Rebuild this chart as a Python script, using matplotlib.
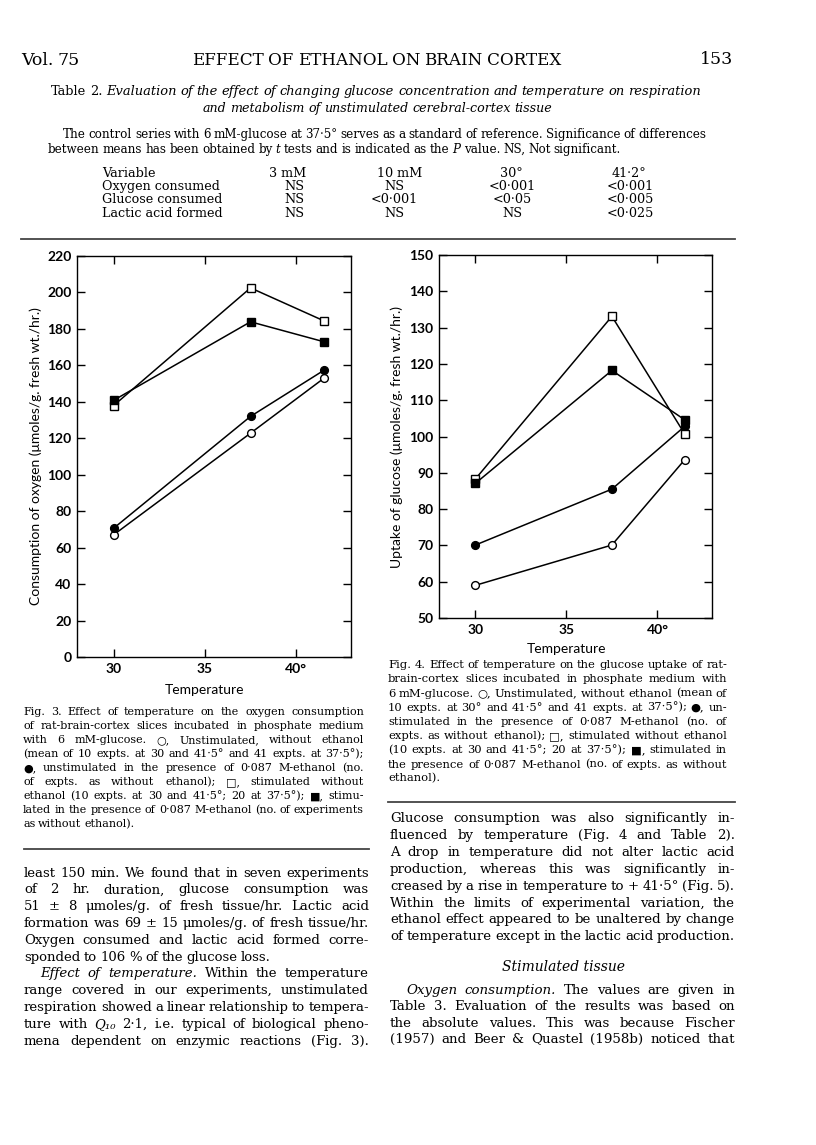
import matplotlib
matplotlib.use("Agg")
import matplotlib.pyplot as plt
from matplotlib.lines import Line2D

W, H, DPI = 816, 1145, 100
SERIF = ["DejaVu Serif", "DejaVu Sans"]
SANS = ["Lato", "DejaVu Sans"]

# ---- data ----
temps = [30, 37.5, 41.5]
o2_open_circle = [67, 122.8, 152.8]
o2_filled_circle = [70.6, 132, 157.2]
o2_open_square = [137.9, 202.5, 184.5]
o2_filled_square = [140.8, 183.9, 173]

glc_open_circle = [59, 70.1, 93.6]
glc_filled_circle = [70.1, 85.5, 102.8]
glc_open_square = [88.3, 133.1, 100.7]
glc_filled_square = [87.1, 118.2, 104.6]

x_ticks = [30, 35, 40]
x_tick_labels = ["30", "35", "40°"]
o2_ticks = list(range(0, 221, 20))
glc_ticks = list(range(50, 151, 10))

# ---- table 2 ----
table_cols = ["Variable", "3 mM", "10 mM", "30°", "41·2°"]
table_rows = [
    ["Oxygen consumed", "NS", "NS", "<0·001", "<0·001"],
    ["Glucose consumed", "NS", "<0·001", "<0·05", "<0·005"],
    ["Lactic acid formed", "NS", "NS", "NS", "<0·025"],
]

fig = plt.figure(figsize=(W / DPI, H / DPI), dpi=DPI)
renderer = fig.canvas.get_renderer()


def fy(y):
    return 1 - y / H


def make_words(words, size, family):
    arts = []
    for w in words:
        style = "normal"
        if w.startswith("_"):
            w, style = w[1:], "italic"
        arts.append(fig.text(0, 0, w, fontsize=size, style=style,
                             family=family, va="baseline"))
    widths = [a.get_window_extent(renderer).width for a in arts]
    return arts, widths


def fit_size(line, x0, x1, size, family=SERIF):
    # largest size <= size at which the line fits with normal word spaces
    words = line.split()
    arts, widths = make_words(words, size, family)
    for a in arts:
        a.remove()
    natural = sum(widths) + 0.26 * size * DPI / 72 * (len(words) - 1)
    return min(size, size * (x1 - x0) / natural * 0.995)


def put_line(line, x0, x1, y, size, justify=True, family=SERIF):
    # y is the middle of the lower-case letters, in pixels from the top
    words = line.split()
    arts, widths = make_words(words, size, family)
    gap = 0.26 * size * DPI / 72
    if justify and len(arts) > 1:
        gap = (x1 - x0 - sum(widths)) / (len(arts) - 1)
    base = y + 0.27 * size * DPI / 72
    x = x0
    for a, w in zip(arts, widths):
        a.set_position((x / W, fy(base)))
        x += w + gap


def put_block(lines, x1, size):
    # lines: (text, x0, y, justify); one font size for the whole block
    fits = [fit_size(t, x0, x1, size) for t, x0, y, j in lines if j]
    size = min(fits) if fits else size
    for t, x0, y, j in lines:
        put_line(t, x0, x1, y, size, justify=j)


def rule(x0, x1, y, lw=1.3):
    fig.add_artist(Line2D([x0 / W, x1 / W], [fy(y), fy(y)], color="#444444",
                          lw=lw, transform=fig.transFigure))


# ---- page header ----
put_line("Vol. 75", 21, 71, 60, 12.5, justify=False)
put_block([("EFFECT OF ETHANOL ON BRAIN CORTEX", 192, 60, True)], 561, 13)
fig.text(733 / W, fy(60 + 4.5), "153", fontsize=12.5, family=SERIF, ha="right", va="baseline")

put_block([
    ("Table 2.  _Evaluation _of _the _effect _of _changing _glucose _concentration "
     "_and _temperature _on _respiration", 51, 91, True),
], 701, 9.8)
put_block([("_and _metabolism _of _unstimulated _cerebral-cortex _tissue", 203, 109, True)], 552, 9.8)
put_block([
    ("The control series with 6 mM-glucose at 37·5° serves as a standard of reference.  "
     "Significance of differences", 63, 135, True),
    ("between means has been obtained by _t tests and is indicated as the _P value.  "
     "NS, Not significant.", 48, 150, False),
], 706, 9.4)

col_x = [102, 288, 400, 511, 629]
for j, head in enumerate(table_cols):
    ha = "left" if j == 0 else "center"
    fig.text(col_x[j] / W, fy(177), head, fontsize=9.2, family=SERIF, ha=ha, va="baseline")
row_y = [190, 203, 217]
cell_x = [102, 294, 394, 512, 630]
for i, row in enumerate(table_rows):
    for j, cell in enumerate(row):
        ha = "left" if j == 0 else "center"
        fig.text(cell_x[j] / W, fy(row_y[i]), cell, fontsize=9.2, family=SERIF, ha=ha, va="baseline")

rule(21, 735, 239)


# ---- the two charts ----
def style_axes(ax, yticks):
    ax.set_xlim(28, 43)
    ax.set_xticks(x_ticks)
    ax.set_xticklabels(x_tick_labels)
    ax.set_yticks(yticks)
    ax.tick_params(direction="in", top=True, right=True, length=6, width=1.0,
                   labelsize=10, pad=4)
    for lab in ax.get_xticklabels() + ax.get_yticklabels():
        lab.set_family(SANS)
        lab.set_weight("bold")
    for sp in ax.spines.values():
        sp.set_linewidth(1.0)


def draw_series(ax, ys, marker, filled):
    ax.plot(temps, ys, color="black", lw=1.1, marker=marker, ms=5.4 if marker == "s" else 5.6,
            mfc="black" if filled else "white", mec="black", mew=1.0)


ax1 = fig.add_axes([77 / W, fy(657), 274 / W, 401 / H])
draw_series(ax1, o2_open_square, "s", False)
draw_series(ax1, o2_filled_square, "s", True)
draw_series(ax1, o2_open_circle, "o", False)
draw_series(ax1, o2_filled_circle, "o", True)
ax1.set_ylim(0, 220)
style_axes(ax1, o2_ticks)
ax1.set_ylabel("Consumption of oxygen (μmoles/g. fresh wt./hr.)", family=SANS, fontsize=10)
ax1.yaxis.set_label_coords(-0.128, 0.5)
ax1.set_xlabel("Temperature", family=SANS, fontsize=10)
ax1.xaxis.set_label_coords(0.467, -0.068)

ax2 = fig.add_axes([439 / W, fy(618), 273 / W, 363 / H])
draw_series(ax2, glc_open_circle, "o", False)
draw_series(ax2, glc_filled_circle, "o", True)
draw_series(ax2, glc_open_square, "s", False)
draw_series(ax2, glc_filled_square, "s", True)
ax2.set_ylim(50, 150)
style_axes(ax2, glc_ticks)
ax2.set_ylabel("Uptake of glucose (μmoles/g. fresh wt./hr.)", family=SANS, fontsize=10)
ax2.yaxis.set_label_coords(-0.132, 0.5)
ax2.set_xlabel("Temperature", family=SANS, fontsize=10)
ax2.xaxis.set_label_coords(0.467, -0.07)

# ---- figure legends ----
fig3_caption = [
    "Fig. 3.  Effect of temperature on the oxygen consumption",
    "of rat-brain-cortex slices incubated in phosphate medium",
    "with 6 mM-glucose.  ○, Unstimulated, without ethanol",
    "(mean of 10 expts. at 30 and 41·5° and 41 expts. at 37·5°);",
    "●, unstimulated in the presence of 0·087 M-ethanol (no.",
    "of expts. as without ethanol); □, stimulated without",
    "ethanol (10 expts. at 30 and 41·5°; 20 at 37·5°); ■, stimu-",
    "lated in the presence of 0·087 M-ethanol (no. of experiments",
    "as without ethanol).",
]
put_block([(t, 23, 712 + 14 * i, i < len(fig3_caption) - 1)
           for i, t in enumerate(fig3_caption)], 364, 8.8)
rule(24, 369, 849)

fig4_caption = [
    "Fig. 4.  Effect of temperature on the glucose uptake of rat-",
    "brain-cortex slices incubated in phosphate medium with",
    "6 mM-glucose.  ○, Unstimulated, without ethanol (mean of",
    "10 expts. at 30° and 41·5° and 41 expts. at 37·5°); ●, un-",
    "stimulated in the presence of 0·087 M-ethanol (no. of",
    "expts. as without ethanol); □, stimulated without ethanol",
    "(10 expts. at 30 and 41·5°; 20 at 37·5°); ■, stimulated in",
    "the presence of 0·087 M-ethanol (no. of expts. as without",
    "ethanol).",
]
put_block([(t, 388, 665 + 14.2 * i, i < len(fig4_caption) - 1)
           for i, t in enumerate(fig4_caption)], 727, 8.8)
rule(388, 735, 802)

# ---- body text ----
left_body = [
    ("least 150 min. We found that in seven experiments", 24, True),
    ("of 2 hr. duration, glucose consumption was", 24, True),
    ("51 ± 8 μmoles/g. of fresh tissue/hr. Lactic acid", 24, True),
    ("formation was 69 ± 15 μmoles/g. of fresh tissue/hr.", 24, True),
    ("Oxygen consumed and lactic acid formed corre-", 24, True),
    ("sponded to 106 % of the glucose loss.", 24, False),
    ("_Effect _of _temperature. Within the temperature", 40, True),
    ("range covered in our experiments, unstimulated", 24, True),
    ("respiration showed a linear relationship to tempera-", 24, True),
    ("ture with _Q₁₀ 2·1, i.e. typical of biological pheno-", 24, True),
    ("mena dependent on enzymic reactions (Fig. 3).", 24, True),
]
put_block([(t, x0, 873 + 16.8 * i, j) for i, (t, x0, j) in enumerate(left_body)], 369, 10.4)

right_body = [
    ("Glucose consumption was also significantly in-", 390, 818),
    ("fluenced by temperature (Fig. 4 and Table 2).", 390, 835),
    ("A drop in temperature did not alter lactic acid", 390, 852),
    ("production, whereas this was significantly in-", 390, 869),
    ("creased by a rise in temperature to + 41·5° (Fig. 5).", 390, 886),
    ("Within the limits of experimental variation, the", 390, 903),
    ("ethanol effect appeared to be unaltered by change", 390, 919),
    ("of temperature except in the lactic acid production.", 390, 936),
    ("_Oxygen _consumption. The values are given in", 406, 990),
    ("Table 3. Evaluation of the results was based on", 390, 1006),
    ("the absolute values. This was because Fischer", 390, 1023),
    ("(1957) and Beer & Quastel (1958b) noticed that", 390, 1039),
]
put_block([(t, x0, y, True) for t, x0, y in right_body], 735, 10.4)
fig.text(563 / W, fy(967 + 3.7), "Stimulated tissue", fontsize=10, style="italic",
         family=SERIF, ha="center", va="baseline")

fig.savefig("out.png", dpi=DPI)
